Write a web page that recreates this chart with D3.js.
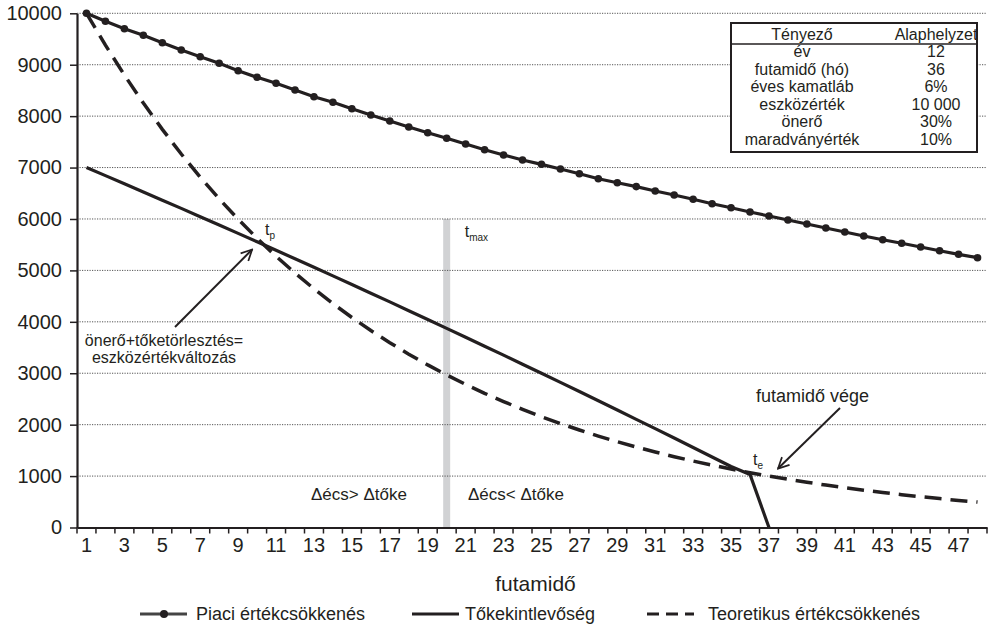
<!DOCTYPE html>
<html>
<head>
<meta charset="utf-8">
<script src="https://cdn.jsdelivr.net/npm/d3@7"></script>
<style>
  body { margin: 0; background: #fff; }
  text { font-family: "Liberation Sans", Arial, sans-serif; fill: #231f20; }
</style>
</head>
<body>
<div id="chart"></div>
<script>
// futamidő (hónap)
const months = d3.range(1, 49);
const xTickLabels = months.filter(m => m % 2 === 1);
const yTicks = [0, 1000, 2000, 3000, 4000, 5000, 6000, 7000, 8000, 9000, 10000];

// Piaci értékcsökkenés
const piaci = [10000, 9844, 9700, 9572, 9428, 9286, 9156, 9028, 8884, 8755, 8639, 8508,
    8378, 8269, 8145, 8022, 7905, 7789, 7678, 7569, 7458, 7347, 7244, 7147,
    7063, 6972, 6880, 6783, 6705, 6630, 6544, 6466, 6383, 6297, 6219, 6136,
    6058, 5980, 5902, 5825, 5747, 5669, 5597, 5527, 5455, 5383, 5313, 5247];

// Tőkekintlevőség (1..37. hónap)
const toke = [7000, 6843, 6685, 6526, 6366, 6206, 6044, 5882, 5720, 5556, 5391, 5226,
    5060, 4893, 4725, 4556, 4387, 4216, 4045, 3873, 3700, 3526, 3352, 3176,
    3000, 2823, 2644, 2465, 2285, 2104, 1923, 1740, 1556, 1372, 1187, 1030, 0];

// Teoretikus értékcsökkenés
const teoretikus = [10000, 9380, 8799, 8254, 7743, 7263, 6813, 6391, 5995, 5623, 5275, 4948,
    4642, 4354, 4084, 3831, 3594, 3371, 3162, 2966, 2783, 2610, 2449, 2297,
    2154, 2021, 1896, 1778, 1668, 1565, 1468, 1377, 1292, 1212, 1136, 1066,
    1000, 938, 880, 825, 774, 726, 681, 639, 599, 562, 527, 495];

// táblázat
const tableRows = [
    ["év", "12"],
    ["futamidő (hó)", "36"],
    ["éves kamatláb", "6%"],
    ["eszközérték", "10 000"],
    ["önerő", "30%"],
    ["maradványérték", "10%"]
];

const tmax = {month: 20, top: 6000};
const tp = {month: 10, value: 5600};
const te = {month: 36, value: 1030};

const legendItems = ["Piaci értékcsökkenés", "Tőkekintlevőség", "Teoretikus értékcsökkenés"];

var width = 990, height = 627;
var ink = "#231f20";

const svg = d3.select("#chart")
    .append("svg")
    .attr("width", width)
    .attr("height", height);

svg.append("defs").append("marker")
    .attr("id", "arr")
    .attr("viewBox", "0 0 12 12")
    .attr("refX", 11).attr("refY", 6)
    .attr("markerWidth", 13).attr("markerHeight", 13)
    .attr("markerUnits", "userSpaceOnUse")
    .attr("orient", "auto")
    .append("path")
    .attr("d", "M1,1 L11,6 L1,11")
    .attr("fill", "none")
    .attr("stroke", ink)
    .attr("stroke-width", 1.6);

var x = d3.scaleBand()
    .domain(months)
    .range([77, 987]);
var cx = function(m) { return x(m) + x.bandwidth() / 2; };

var y = d3.scaleLinear()
    .domain([0, 10000])
    .range([527.5, 13.3]);

// tmax sáv
svg.append("rect")
    .attr("x", cx(tmax.month) - 3.5)
    .attr("y", y(tmax.top))
    .attr("width", 7)
    .attr("height", y(0) - y(tmax.top))
    .attr("fill", "#d1d2d4");

// rácsvonalak
svg.append("g")
    .selectAll("line")
    .data(yTicks.filter(d => d > 0))
    .enter()
    .append("line")
    .attr("x1", 77).attr("x2", 987)
    .attr("y1", d => y(d)).attr("y2", d => y(d))
    .attr("stroke", "#555")
    .attr("stroke-width", 1)
    .attr("stroke-dasharray", "1.2,1.3");

// y tengely
svg.append("g")
    .attr("transform", "translate(77,0)")
    .call(d3.axisLeft(y).tickValues(yTicks).tickSize(7).tickSizeOuter(0).tickPadding(8).tickFormat(d3.format("d")))
    .call(g => g.select(".domain").attr("stroke", ink).attr("stroke-width", 2.2))
    .call(g => g.selectAll(".tick line").attr("stroke", ink).attr("stroke-width", 1.5))
    .selectAll("text")
        .attr("font-size", "20px")
        .attr("fill", ink);

// x tengely
svg.append("g")
    .attr("transform", "translate(0," + y(0) + ")")
    .call(d3.axisBottom(x).tickValues(xTickLabels).tickSize(0).tickSizeOuter(0).tickPadding(10))
    .call(g => g.select(".domain").attr("stroke", ink).attr("stroke-width", 2.2))
    .selectAll("text")
        .attr("font-size", "20px")
        .attr("fill", ink);

svg.append("g")
    .selectAll("line")
    .data(months.concat([49]))
    .enter()
    .append("line")
    .attr("x1", d => d === 49 ? x(48) + x.bandwidth() : x(d))
    .attr("x2", d => d === 49 ? x(48) + x.bandwidth() : x(d))
    .attr("y1", y(0)).attr("y2", y(0) + 6)
    .attr("stroke", ink)
    .attr("stroke-width", 1.5);

svg.append("text")
    .attr("x", cx(25) - 6)
    .attr("y", 591)
    .attr("text-anchor", "middle")
    .attr("font-size", "21px")
    .text("futamidő");

// vonalak
var line = d3.line()
    .x(function(d, i) { return cx(months[i]); })
    .y(function(d) { return y(d); });

svg.append("path")
    .datum(teoretikus)
    .attr("d", line)
    .attr("fill", "none")
    .attr("stroke", ink)
    .attr("stroke-width", 3.5)
    .attr("stroke-dasharray", "17,9");

svg.append("path")
    .datum(toke)
    .attr("d", line)
    .attr("fill", "none")
    .attr("stroke", ink)
    .attr("stroke-width", 3.2);

svg.append("path")
    .datum(piaci)
    .attr("d", line)
    .attr("fill", "none")
    .attr("stroke", ink)
    .attr("stroke-width", 3.2);

svg.append("g")
    .selectAll("circle")
    .data(piaci)
    .enter()
    .append("circle")
    .attr("cx", function(d, i) { return cx(months[i]); })
    .attr("cy", function(d) { return y(d); })
    .attr("r", 3.8)
    .attr("fill", ink);

// feliratok
function subLabel(px, py, sub) {
    var t = svg.append("text")
        .attr("x", px)
        .attr("y", py)
        .attr("font-size", "16px");
    t.append("tspan").text("t");
    t.append("tspan").attr("font-size", "10px").attr("dy", 4).text(sub);
}
subLabel(cx(tp.month) + 8, y(tp.value) - 5, "p");
subLabel(cx(tmax.month) + 18, y(tmax.top) + 18, "max");
subLabel(cx(te.month) + 3, y(te.value) - 10, "e");

svg.append("line")
    .attr("x1", 175).attr("y1", 327)
    .attr("x2", cx(tp.month) - 5).attr("y2", y(tp.value) + 10)
    .attr("stroke", ink).attr("stroke-width", 2)
    .attr("marker-end", "url(#arr)");

var note = svg.append("text")
    .attr("x", 164)
    .attr("y", 346)
    .attr("text-anchor", "middle")
    .attr("font-size", "16px");
note.append("tspan").attr("x", 164).text("önerő+tőketörlesztés=");
note.append("tspan").attr("x", 164).attr("dy", 17).text("eszközértékváltozás");

svg.append("text")
    .attr("x", 756)
    .attr("y", 402)
    .attr("font-size", "18px")
    .text("futamidő vége");

svg.append("line")
    .attr("x1", 840).attr("y1", 408)
    .attr("x2", cx(te.month) + 28).attr("y2", y(te.value) - 6)
    .attr("stroke", ink).attr("stroke-width", 2)
    .attr("marker-end", "url(#arr)");

svg.append("text")
    .attr("x", 311)
    .attr("y", 500)
    .attr("font-size", "17px")
    .text("Δécs> Δtőke");

svg.append("text")
    .attr("x", 468)
    .attr("y", 500)
    .attr("font-size", "17px")
    .text("Δécs< Δtőke");

// táblázat
var tbl = svg.append("g");
tbl.append("rect")
    .attr("x", 731).attr("y", 23)
    .attr("width", 246).attr("height", 129)
    .attr("fill", "#fff")
    .attr("stroke", ink)
    .attr("stroke-width", 2);
tbl.append("line")
    .attr("x1", 731).attr("x2", 977)
    .attr("y1", 44).attr("y2", 44)
    .attr("stroke", ink).attr("stroke-width", 1.5);
tbl.append("text").attr("x", 802).attr("y", 40).attr("text-anchor", "middle").attr("font-size", "16px").text("Tényező");
tbl.append("text").attr("x", 936).attr("y", 40).attr("text-anchor", "middle").attr("font-size", "16px").text("Alaphelyzet");
tbl.selectAll("text.rowLabel")
    .data(tableRows)
    .enter()
    .append("text")
    .attr("class", "rowLabel")
    .attr("x", 802)
    .attr("y", (d, i) => 57 + i * 17.6)
    .attr("text-anchor", "middle")
    .attr("font-size", "16px")
    .text(d => d[0]);
tbl.selectAll("text.rowValue")
    .data(tableRows)
    .enter()
    .append("text")
    .attr("class", "rowValue")
    .attr("x", 936)
    .attr("y", (d, i) => 57 + i * 17.6)
    .attr("text-anchor", "middle")
    .attr("font-size", "16px")
    .text(d => d[1]);

// jelmagyarázat
var legendX = [140, 412, 647];
var legendY = 614;
var legend = svg.append("g");
legendItems.forEach(function(name, i) {
    var lx = legendX[i];
    legend.append("line")
        .attr("x1", lx).attr("x2", lx + 47)
        .attr("y1", legendY).attr("y2", legendY)
        .attr("stroke", i === 0 ? "#444" : ink)
        .attr("stroke-width", 3)
        .attr("stroke-dasharray", i === 2 ? "12,7" : null);
    if (i === 0) {
        legend.append("circle")
            .attr("cx", lx + 24).attr("cy", legendY)
            .attr("r", 4).attr("fill", ink);
    }
    legend.append("text")
        .attr("x", lx + (i === 2 ? 61 : 56) - (i === 1 ? 3 : 0))
        .attr("y", legendY + 6)
        .attr("font-size", "18px")
        .text(name);
});
</script>
</body>
</html>
